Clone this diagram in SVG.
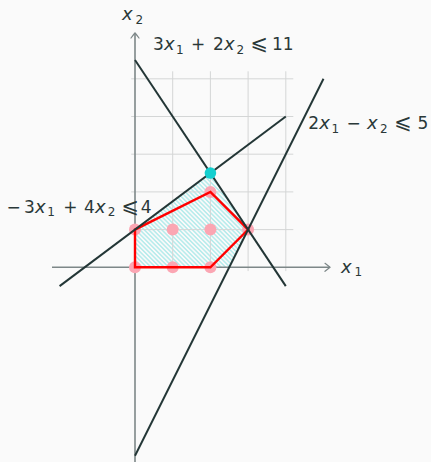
<svg xmlns="http://www.w3.org/2000/svg" width="431" height="462" viewBox="0 0 431 462">
<defs>
<style>
.grid{stroke:#d4d6d6;stroke-width:1;fill:none}
.axis{stroke:#7d8788;stroke-width:1.6;fill:none}
.cons{stroke:#233636;stroke-width:2;fill:none;stroke-linecap:butt}
.lbl{font-family:"DejaVu Sans",sans-serif;font-size:17px;fill:#2a3838}
.it{font-style:italic;font-size:18px}
.sub{font-size:12px}
.le{font-size:21px}
.pt{fill:#fba6b3}
</style>
<pattern id="hatch" patternUnits="userSpaceOnUse" width="3.1" height="3.1" patternTransform="rotate(-45)">
<line x1="1.55" y1="0" x2="1.55" y2="3.1" stroke="#7adede" stroke-width="0.8"/>
</pattern>
<marker id="arr" viewBox="-6 -5 8 10" markerWidth="8" markerHeight="10" refX="0" refY="0" orient="auto" markerUnits="userSpaceOnUse">
<path d="M-5,-4 Q-1.2,-1 0,0 Q-1.2,1 -5,4" fill="none" stroke="#7d8788" stroke-width="1.2" stroke-linecap="round"/>
</marker>
</defs>
<rect x="0" y="0" width="431" height="462" fill="#fafafa"/>
<g id="feasible-region">
<polygon points="135,267.3 229.25,267.3 248.1,229.6 210.4,173.05 135,229.6" fill="url(#hatch)"/>
</g>
<g id="grid">
<path class="grid" d="M131.2,229.6H293.3M131.2,191.9H293.3M131.2,154.2H293.3M131.2,116.5H293.3M131.2,78.8H293.3M172.7,71.3V271.1M210.4,71.3V271.1M248.1,71.3V271.1M285.8,71.3V271.1"/>
</g>
<g id="axes">
<line class="axis" x1="52" y1="267.3" x2="330" y2="267.3" marker-end="url(#arr)"/>
<line class="axis" x1="135" y1="462" x2="135" y2="33" marker-end="url(#arr)"/>
</g>
<g id="integer-points">
<circle class="pt" cx="135" cy="267.3" r="6"/>
<circle class="pt" cx="172.7" cy="267.3" r="6"/>
<circle class="pt" cx="210.4" cy="267.3" r="6"/>
<circle class="pt" cx="135" cy="229.6" r="6"/>
<circle class="pt" cx="172.7" cy="229.6" r="6"/>
<circle class="pt" cx="210.4" cy="229.6" r="6"/>
<circle class="pt" cx="248.1" cy="229.6" r="6"/>
<circle class="pt" cx="210.4" cy="191.9" r="6"/>
</g>
<g id="integer-hull">
<polygon points="135,267.3 210.4,267.3 248.1,229.6 210.4,191.9 135,229.6" fill="none" stroke="#ff0000" stroke-width="2.4" stroke-linejoin="miter"/>
</g>
<g id="connectors">
<line class="cons" x1="135" y1="60" x2="285.8" y2="286.15"/>
<line class="cons" x1="323.5" y1="78.8" x2="135" y2="455.8"/>
<line class="cons" x1="59.6" y1="286.15" x2="285.8" y2="116.5"/>
</g>
<g id="optimum">
<circle cx="210.4" cy="173.05" r="5.8" fill="#14cfcf"/>
</g>
<g id="labels">
<text class="lbl"><tspan class="it" x="122" y="19.5">x</tspan><tspan class="sub" x="135.5" y="23.5">2</tspan></text>
<text class="lbl"><tspan class="it" x="341" y="272.5">x</tspan><tspan class="sub" x="354.5" y="276">1</tspan></text>
<text class="lbl"><tspan x="153" y="50">3</tspan><tspan class="it" x="164" y="50">x</tspan><tspan class="sub" x="176" y="53.5">1</tspan><tspan x="191" y="50">+</tspan><tspan x="213" y="50">2</tspan><tspan class="it" x="224" y="50">x</tspan><tspan class="sub" x="236.5" y="53.5">2</tspan><tspan class="le" x="250.5" y="50">⩽</tspan><tspan x="272" y="50">11</tspan></text>
<text class="lbl"><tspan x="308.3" y="129">2</tspan><tspan class="it" x="319.2" y="129">x</tspan><tspan class="sub" x="331.5" y="132.5">1</tspan><tspan x="346.5" y="129">−</tspan><tspan class="it" x="367" y="129">x</tspan><tspan class="sub" x="380" y="132.5">2</tspan><tspan class="le" x="394.2" y="129">⩽</tspan><tspan x="417.5" y="129">5</tspan></text>
<text class="lbl"><tspan x="6.5" y="212.7">−</tspan><tspan x="24" y="212.7">3</tspan><tspan class="it" x="35" y="212.7">x</tspan><tspan class="sub" x="47.3" y="216.2">1</tspan><tspan x="63.3" y="212.7">+</tspan><tspan x="84" y="212.7">4</tspan><tspan class="it" x="95" y="212.7">x</tspan><tspan class="sub" x="107.8" y="216.2">2</tspan><tspan class="le" x="121.5" y="212.7">⩽</tspan><tspan x="140.8" y="212.7">4</tspan></text>
</g>
</svg>
